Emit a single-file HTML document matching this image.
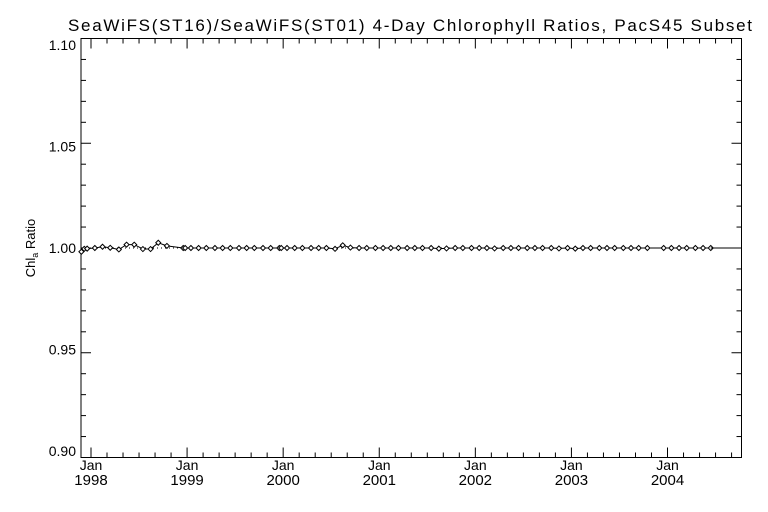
<!DOCTYPE html>
<html><head><meta charset="utf-8"><style>
body{margin:0;background:#fff}
svg{display:block;font-family:"Liberation Sans",sans-serif}
</style></head><body>
<svg id="chart" width="768" height="512" viewBox="0 0 768 512" xmlns="http://www.w3.org/2000/svg">
<rect width="768" height="512" fill="#fff"/>
<text x="410" y="31" font-size="17" text-anchor="middle" textLength="684" lengthAdjust="spacing" fill="#000">SeaWiFS(ST16)/SeaWiFS(ST01) 4-Day Chlorophyll Ratios, PacS45 Subset</text>
<text transform="translate(35,248) rotate(-90)" font-size="13" text-anchor="middle" fill="#000">Chl<tspan font-size="9" dy="3">a</tspan><tspan dy="-3"> Ratio</tspan></text>
<g id="axes"></g>
<g id="marks"></g>
</svg>
<script>
const yTickLabels = ["0.90","0.95","1.00","1.05","1.10"];
const yTickValues = [0.90,0.95,1.00,1.05,1.10];
const xYearLabels = ["1998","1999","2000","2001","2002","2003","2004"];
const dates = [1997.90,1997.93,1997.96,1998.04,1998.12,1998.20,1998.29,1998.37,1998.45,1998.54,1998.62,1998.70,1998.79,1998.96,1998.98,1999.04,1999.12,1999.20,1999.29,1999.37,1999.45,1999.54,1999.62,1999.70,1999.79,1999.87,1999.96,1999.98,2000.04,2000.12,2000.20,2000.29,2000.37,2000.45,2000.54,2000.62,2000.70,2000.79,2000.87,2000.96,2001.04,2001.12,2001.20,2001.29,2001.37,2001.45,2001.54,2001.62,2001.70,2001.79,2001.87,2001.96,2002.04,2002.12,2002.20,2002.29,2002.37,2002.45,2002.54,2002.62,2002.70,2002.79,2002.87,2002.96,2003.04,2003.12,2003.20,2003.29,2003.37,2003.45,2003.54,2003.62,2003.70,2003.79,2003.96,2004.04,2004.12,2004.20,2004.29,2004.37,2004.45];
const ratios = [0.9982,0.9996,0.9997,1.0000,1.0006,1.0001,0.9993,1.0016,1.0016,0.9995,0.9995,1.0025,1.0010,1.0000,1.0000,1.0000,1.0000,1.0000,1.0000,1.0000,1.0000,1.0000,1.0000,1.0000,1.0000,1.0000,1.0000,1.0000,1.0000,1.0000,1.0000,1.0000,1.0000,1.0000,0.9996,1.0013,1.0002,1.0000,1.0000,1.0000,1.0000,1.0000,1.0000,1.0000,1.0000,1.0000,1.0000,0.9997,0.9998,1.0000,1.0000,1.0000,1.0000,1.0000,0.9998,1.0000,1.0000,1.0000,1.0000,1.0000,1.0000,1.0000,0.9998,1.0000,0.9997,1.0000,1.0000,1.0000,1.0000,1.0000,1.0000,1.0000,1.0000,1.0000,1.0000,1.0000,1.0000,1.0000,1.0000,1.0000,1.0000];

const L=81,R=741.5,T=38.5,B=457.5;
const yMin=0.90,yMax=1.10,xStart=1997.896,xEnd=2004.77;
const sx=v=>L+(v-xStart)/(xEnd-xStart)*(R-L);
const sy=v=>B-(v-yMin)/(yMax-yMin)*(B-T);
const syLabel=v=>248+(1-v)/0.05*101.5;
const NS="http://www.w3.org/2000/svg";
const axes=document.getElementById('axes'),marks=document.getElementById('marks');
function mk(tag,attrs,parent){const e=document.createElementNS(NS,tag);for(const k in attrs)e.setAttribute(k,attrs[k]);parent.appendChild(e);return e;}

const frame=mk('rect',{x:L,y:T,width:R-L,height:B-T,fill:'none',stroke:'#000','stroke-width':1},axes);



for(let i=0;i<=20;i++){
  const v=yMin+i*0.01,y=sy(v),len=(i%5===0)?10:5;
  const t1=mk('line',{x1:L,y1:y,x2:L+len,y2:y,stroke:'#000'},axes);
  
  
  const t2=mk('line',{x1:R,y1:y,x2:R-len,y2:y,stroke:'#000'},axes);
  
  
}
yTickValues.forEach((v,i)=>{
  const t=mk('text',{x:L-5,y:syLabel(v)+5,'font-size':14,'text-anchor':'end',fill:'#000'},axes);
  t.textContent=yTickLabels[i];
  
  
});
for(let yr=1997;yr<=2005;yr++){
  for(let m=0;m<12;m+=2){
    const v=yr+m/12; if(v<xStart||v>xEnd)continue;
    const x=sx(v),len=(m===0)?10:5;
    const a=mk('line',{x1:x,y1:B,x2:x,y2:B-len,stroke:'#000'},axes);
    
    
    const b=mk('line',{x1:x,y1:T,x2:x,y2:T+len,stroke:'#000'},axes);
    
    
  }
}
xYearLabels.forEach(lbl=>{
  const x=sx(parseInt(lbl));
  const a=mk('text',{x:x,y:B+12.5,'font-size':14,'text-anchor':'middle',fill:'#000'},axes);
  a.textContent='Jan';
  
  
  const b=mk('text',{x:x,y:B+27.5,'font-size':15,'text-anchor':'middle',fill:'#000'},axes);
  b.textContent=lbl;
  
  
});
const ref=mk('line',{x1:L,y1:sy(1),x2:R,y2:sy(1),stroke:'#000','stroke-dasharray':'1,3'},marks);


const pts=dates.map((d,i)=>sx(d).toFixed(1)+','+sy(ratios[i]).toFixed(1)).join(' ');
const pl=mk('polyline',{points:pts,fill:'none',stroke:'#000','stroke-width':1},marks);


dates.forEach((d,i)=>{
  const x=sx(d),y=sy(ratios[i]);
  const p=mk('polygon',{points:`${x-2.5},${y} ${x},${y-2.5} ${x+2.5},${y} ${x},${y+2.5}`,fill:'#fff',stroke:'#000','stroke-width':1},marks);
  
  
});
const tail=mk('line',{x1:sx(dates[dates.length-1]),y1:sy(1),x2:R,y2:sy(1),stroke:'#000'},marks);


</script>
</body></html>
